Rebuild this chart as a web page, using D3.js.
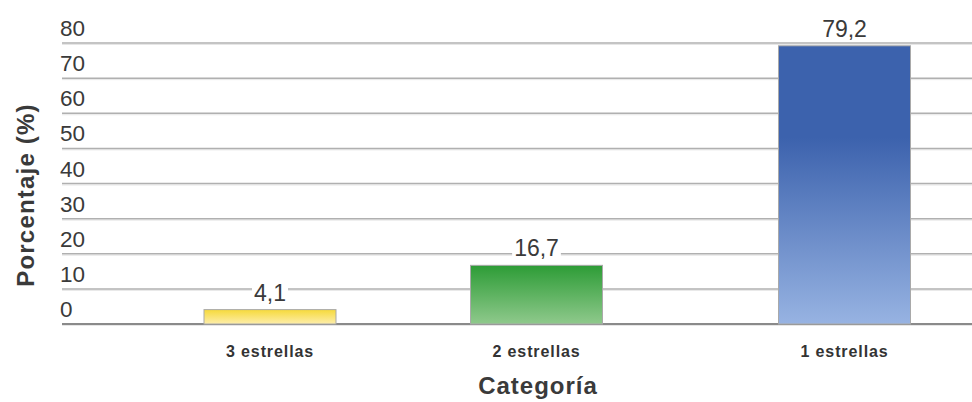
<!DOCTYPE html>
<html><head><meta charset="utf-8">
<script src="https://cdn.jsdelivr.net/npm/d3@7"></script>
<style>body{margin:0;background:#fff}svg{display:block}text{font-family:"Liberation Sans",Arial,sans-serif}</style>
</head><body><svg id="c" width="972" height="402"></svg>
<script>
const categories = ["3 estrellas","2 estrellas","1 estrellas"];
const values = [4.1,16.7,79.2];
const valueLabels = ["4,1","16,7","79,2"];
const yTicks = [0,10,20,30,40,50,60,70,80];
const gradients = [["#f6d93a","#fdeeab"],["#2d9c36","#8fc98c"],["#3c62ad","#97b3e2"]];

const svg = d3.select("#c");
const y = d3.scaleLinear().domain([0,80]).range([324,43]);
// category centers (layout of the original is slightly uneven)
const xc = d3.scaleOrdinal().domain(categories).range([270,536.5,844.5]);
const bw = 132;

const defs = svg.append("defs");
gradients.forEach((g,i)=>{
  const lg = defs.append("linearGradient").attr("id","g"+i).attr("x1",0).attr("y1",0).attr("x2",0).attr("y2",1);
  if(i===2){
    lg.append("stop").attr("offset","0%").attr("stop-color",g[0]);
    lg.append("stop").attr("offset","33%").attr("stop-color",g[0]);
    lg.append("stop").attr("offset","100%").attr("stop-color",g[1]);
  } else {
    lg.append("stop").attr("offset","0%").attr("stop-color",g[0]);
    lg.append("stop").attr("offset","100%").attr("stop-color",g[1]);
  }
});

// gridlines
const grid = svg.append("g");
yTicks.forEach(t=>{
  grid.append("line").attr("x1",62).attr("x2",972).attr("y1",y(t)+1.5).attr("y2",y(t)+1.5)
    .attr("stroke","#e6e6e6").attr("stroke-width",1);
  grid.append("line").attr("x1",62).attr("x2",972).attr("y1",y(t)).attr("y2",y(t))
    .attr("stroke", t===0 ? "#8a8a8a" : "#b0b0b0").attr("stroke-width", t===0 ? 2 : 1.5);
});
// y tick labels
svg.append("g").selectAll("text").data(yTicks).join("text")
  .attr("x",60).attr("y",d=>y(d)-7).attr("font-size",22.5).attr("fill","#3a3a3a").text(d=>d);

// bars
svg.append("g").selectAll("rect").data(values).join("rect")
  .attr("x",(d,i)=>xc(categories[i])-bw/2).attr("width",bw)
  .attr("y",d=>y(d)).attr("height",d=>y(0)-y(d))
  .attr("fill",(d,i)=>`url(#g${i})`).attr("stroke","#a9a9a9").attr("stroke-width",1);

// value labels with white backing
const vl = svg.append("g").selectAll("g").data(values).join("g")
  .attr("transform",(d,i)=>`translate(${xc(categories[i])},${y(d)-9})`);
const bg = vl.append("rect").attr("y",-18).attr("height",20).attr("fill","#fff");
const vt = vl.append("text").attr("text-anchor","middle").attr("font-size",23).attr("fill","#3a3a3a")
  .text((d,i)=>valueLabels[i]);
bg.each(function(d,i){
  const w = vt.nodes()[i].getComputedTextLength() + 4;
  d3.select(this).attr("x",-w/2).attr("width",w);
});

// x labels
svg.append("g").selectAll("text").data(categories).join("text")
  .attr("x",d=>xc(d)).attr("y",357).attr("text-anchor","middle")
  .attr("font-size",16).attr("letter-spacing",0.9).attr("font-weight","bold").attr("fill","#333").text(d=>d);

svg.append("text").attr("x",538).attr("y",394).attr("text-anchor","middle")
  .attr("font-size",24).attr("letter-spacing",1).attr("font-weight","bold").attr("fill","#3a3a3a").text("Categoría");
svg.append("text").attr("transform","translate(34,195) rotate(-90)").attr("text-anchor","middle")
  .attr("font-size",24).attr("letter-spacing",1.2).attr("font-weight","bold").attr("fill","#3a3a3a").text("Porcentaje (%)");
</script></body></html>
